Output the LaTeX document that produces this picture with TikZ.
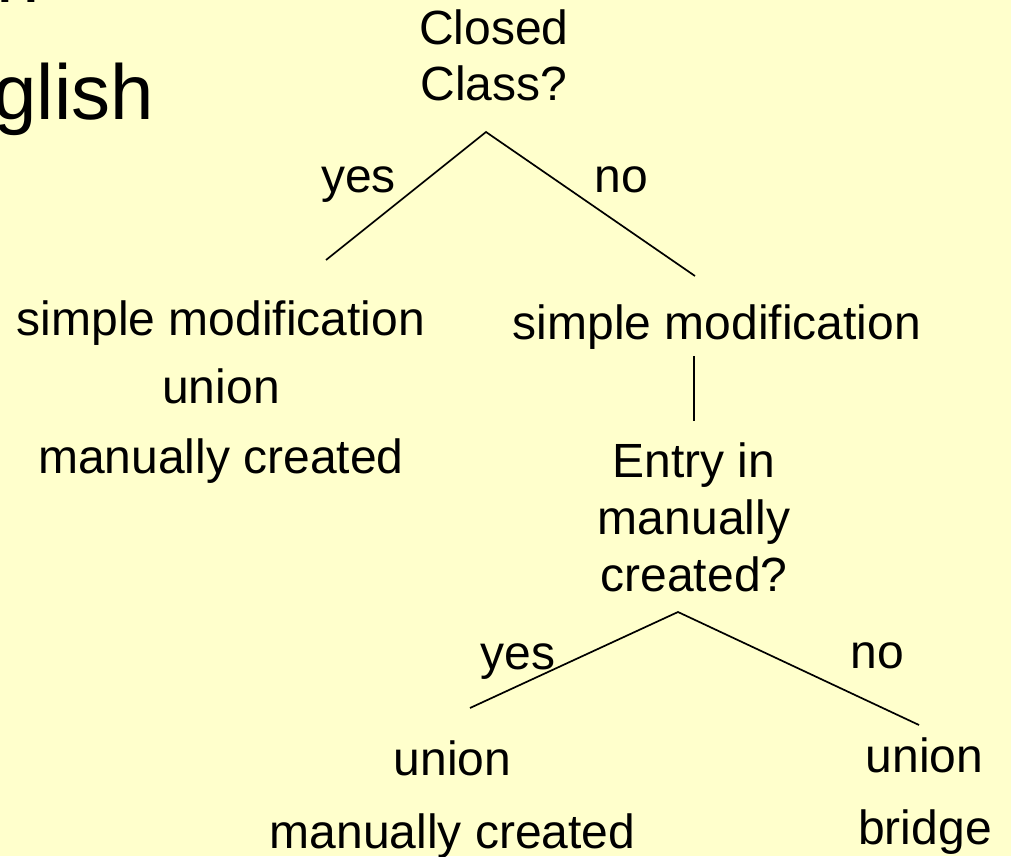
\documentclass[tikz,border=0pt]{standalone}
\usepackage{fontspec}
\setmainfont{Liberation Sans}
\definecolor{slidebg}{RGB}{255,255,204}
\begin{document}
\begin{tikzpicture}[x=1pt,y=-1pt,
  lbl/.style={anchor=base,inner sep=0pt,font=\fontsize{48}{57}\selectfont},
  ttl/.style={anchor=base west,inner sep=0pt,font=\fontsize{78}{94}\selectfont},
  branch/.style={draw=black,line width=1.7pt}]
  % slide background and page frame
  \fill[slidebg] (0,0) rectangle (1011,856);
  \useasboundingbox (0,0) rectangle (1011,856);

  % title lines running off the left edge
  \node[ttl] (title1) at (-4,3) {n};
  \node[ttl] (title2) at (-6.6,120) {glish};

  % first question
  \node[lbl] (closed1) at (494,45) {Closed};
  \node[lbl] (closed2) at (494,101) {Class?};
  \node[lbl] (yes1) at (358.5,192) {yes};
  \node[lbl] (no1) at (621,192) {no};

  % left outcome
  \node[lbl] (lsimp) at (221,335) {simple modification};
  \node[lbl] (lunion) at (221,403) {union};
  \node[lbl] (lman) at (221,473) {manually created};

  % right outcome and second question
  \node[lbl] (rsimp) at (717,339) {simple modification};
  \node[lbl] (entry1) at (694,477) {Entry in};
  \node[lbl] (entry2) at (694,534) {manually};
  \node[lbl] (entry3) at (694,591) {created?};
  \node[lbl] (yes2) at (518,669) {yes};
  \node[lbl] (no2) at (877,668) {no};

  % leaves of the second question
  \node[lbl] (bunion) at (452.5,775) {union};
  \node[lbl] (bman) at (452.5,848) {manually created};
  \node[lbl] (runion) at (924.5,772) {union};
  \node[lbl] (rbridge) at (925,844) {bridge};

  % branch end points
  \coordinate (closedTip) at (486,132);
  \coordinate (lsimpTop) at (326,260);
  \coordinate (rsimpTop) at (695,276);
  \coordinate (rsimpFoot) at (694,356);
  \coordinate (entryTop) at (694,421);
  \coordinate (entryTip) at (678,612);
  \coordinate (bunionTop) at (470,708);
  \coordinate (runionTop) at (919,725);

  \draw[branch] (lsimpTop) -- (closedTip) -- (rsimpTop);
  \draw[branch] (rsimpFoot) -- (entryTop);
  \draw[branch] (bunionTop) -- (entryTip) -- (runionTop);
\end{tikzpicture}
\end{document}
